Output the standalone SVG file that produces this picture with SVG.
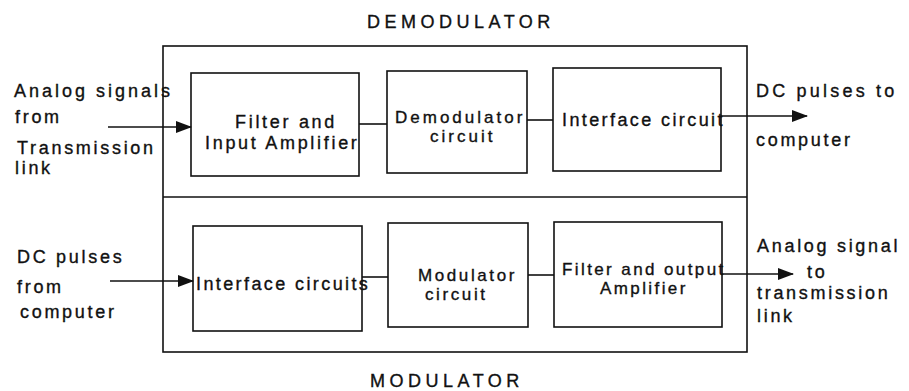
<svg xmlns="http://www.w3.org/2000/svg" width="909" height="391" viewBox="0 0 909 391">
<style>
text{font-family:"Liberation Sans",Arial,sans-serif;font-size:18px;fill:#111;stroke:#111;stroke-width:0.35;letter-spacing:2.7px}
.title{font-size:18px;letter-spacing:4.5px}
.tight{font-size:17px}
.box{fill:none;stroke:#111;stroke-width:1.6}
.con{fill:none;stroke:#111;stroke-width:1.6}
</style>
<defs>
<marker id="arr" markerWidth="16" markerHeight="12" refX="15" refY="6" orient="auto" markerUnits="userSpaceOnUse">
<path d="M0,0 L16,6 L0,12 Z" fill="#111"/>
</marker>
</defs>
<rect width="909" height="391" fill="#fff"/>
<g id="frame">
<rect class="box" x="163" y="46" width="584" height="306"/>
<line class="box" x1="163" y1="197" x2="747" y2="197"/>
<text class="title" x="367" y="28">DEMODULATOR</text>
<text class="title" x="370" y="387">MODULATOR</text>
</g>
<g id="in-demod">
<text x="14" y="97" style="letter-spacing:3px">Analog signals</text>
<text x="15" y="123">from</text>
<text x="17" y="154">Transmission</text>
<text x="15" y="174">link</text>
</g>
<g id="filter-input">
<rect class="box" x="191" y="73" width="168" height="103"/>
<text x="235" y="128">Filter and</text>
<text x="205" y="149">Input Amplifier</text>
</g>
<g id="demod-circuit">
<rect class="box" x="387" y="71" width="140" height="102"/>
<text class="tight" x="395" y="123" style="letter-spacing:3px">Demodulator</text>
<text class="tight" x="430" y="142" style="letter-spacing:3px">circuit</text>
</g>
<g id="interface-circuit">
<rect class="box" x="553" y="68" width="168" height="103"/>
<text x="562" y="126" style="letter-spacing:2.4px">Interface circuit</text>
</g>
<g id="out-demod">
<text x="756" y="97" style="letter-spacing:3.2px">DC pulses to</text>
<text x="756" y="146">computer</text>
</g>
<g id="in-mod">
<text x="17" y="263">DC pulses</text>
<text x="17" y="293">from</text>
<text x="20" y="318">computer</text>
</g>
<g id="interface-circuits">
<rect class="box" x="193" y="226" width="169" height="105"/>
<text x="196" y="290" style="letter-spacing:2.4px">Interface circuits</text>
</g>
<g id="mod-circuit">
<rect class="box" x="388" y="223" width="140" height="104"/>
<text class="tight" x="418" y="281" style="letter-spacing:2.6px">Modulator</text>
<text class="tight" x="425" y="300" style="letter-spacing:2.6px">circuit</text>
</g>
<g id="filter-output">
<rect class="box" x="554" y="222" width="168" height="105"/>
<text class="tight" x="562" y="275" style="letter-spacing:2.4px">Filter and output</text>
<text class="tight" x="600" y="294" style="letter-spacing:2.4px">Amplifier</text>
</g>
<g id="out-mod">
<text x="757" y="252">Analog signal</text>
<text x="807" y="278">to</text>
<text x="757" y="299">transmission</text>
<text x="757" y="322">link</text>
</g>
<g id="connectors">
<line class="con" x1="108" y1="127" x2="191" y2="127" marker-end="url(#arr)"/>
<line class="con" x1="359" y1="124" x2="387" y2="124"/>
<line class="con" x1="527" y1="120" x2="553" y2="120"/>
<line class="con" x1="721" y1="116" x2="807" y2="116" marker-end="url(#arr)"/>
<line class="con" x1="110" y1="281" x2="193" y2="281" marker-end="url(#arr)"/>
<line class="con" x1="362" y1="277" x2="388" y2="277"/>
<line class="con" x1="528" y1="275" x2="554" y2="275"/>
<line class="con" x1="722" y1="274" x2="793" y2="274" marker-end="url(#arr)"/>
</g>
</svg>
